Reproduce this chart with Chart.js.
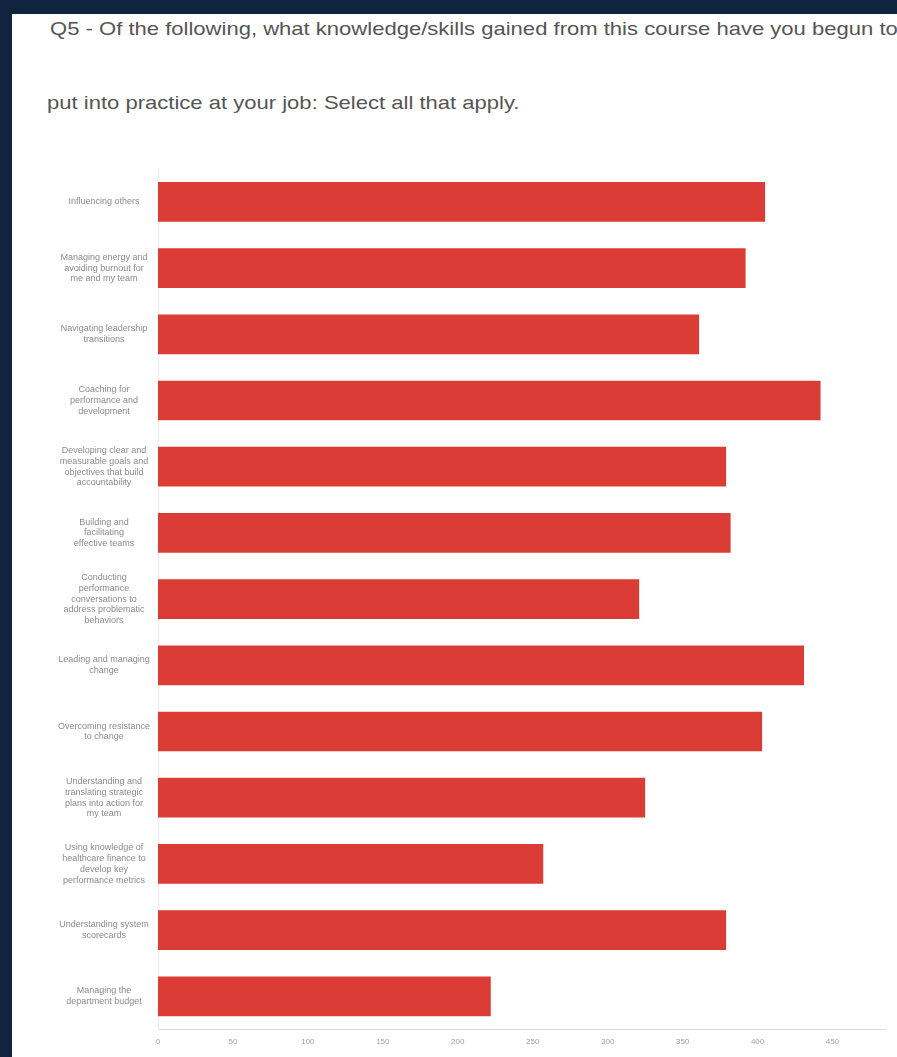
<!DOCTYPE html>
<html lang="en">
<head>
  <meta charset="UTF-8">
  <script src="https://cdn.jsdelivr.net/npm/chart.js"></script>
  <style>
    body {
      margin: 0;
      width: 897px;
      height: 1057px;
      background: #10233f;
      overflow: hidden;
      font-family: 'Liberation Sans', Arial, sans-serif;
    }

    .panel {
      position: absolute;
      left: 12px;
      top: 14px;
      width: 885px;
      height: 1043px;
      background: #ffffff;
      overflow: hidden;
    }

    .title {
      position: absolute;
      white-space: nowrap;
      color: #555;
      font-size: 19px;
      transform: scaleX(1.16);
      transform-origin: left center;
    }

    .chart-box {
      position: absolute;
      left: 0;
      top: 136px;
      width: 885px;
      height: 907px;
    }
  </style>
  <title>Q5 knowledge/skills</title>
</head>
<body>
  <div class="panel">
    <div class="title" style="left:38px; top:4px;">Q5 - Of the following, what knowledge/skills gained from this course have you begun to</div>
    <div class="title" style="left:35px; top:78px;">put into practice at your job: Select all that apply.</div>
    <div class="chart-box"><canvas id="chart"></canvas></div>
  </div>
  <script>
    const skills = [
      ['Influencing others'],
      ['Managing energy and', 'avoiding burnout for', 'me and my team'],
      ['Navigating leadership', 'transitions'],
      ['Coaching for', 'performance and', 'development'],
      ['Developing clear and', 'measurable goals and', 'objectives that build', 'accountability'],
      ['Building and', 'facilitating', 'effective teams'],
      ['Conducting', 'performance', 'conversations to', 'address problematic', 'behaviors'],
      ['Leading and managing', 'change'],
      ['Overcoming resistance', 'to change'],
      ['Understanding and', 'translating strategic', 'plans into action for', 'my team'],
      ['Using knowledge of', 'healthcare finance to', 'develop key', 'performance metrics'],
      ['Understanding system', 'scorecards'],
      ['Managing the', 'department budget']
    ];
    const responses = [405, 392, 361, 442, 379, 382, 321, 431, 403, 325, 257, 379, 222];
    const axisMax = 485;
    const tickStep = 50;

    const ctx = document.getElementById('chart').getContext('2d');
    new Chart(ctx, {
      type: 'bar',
      data: {
        labels: skills,
        datasets: [{
          data: responses,
          backgroundColor: '#dc3c36',
          borderWidth: 0,
          categoryPercentage: 1,
          barPercentage: 0.6
        }]
      },
      options: {
        indexAxis: 'y',
        responsive: true,
        maintainAspectRatio: false,
        animation: false,
        layout: { padding: { top: 7, right: 12, bottom: 2, left: 0 } },
        plugins: {
          legend: { display: false },
          tooltip: { enabled: false }
        },
        scales: {
          x: {
            min: 0,
            max: axisMax,
            grid: { display: false, drawTicks: false },
            border: { color: '#dcdcdc' },
            ticks: {
              stepSize: tickStep,
              padding: 8,
              color: '#a0a0a0',
              font: { family: 'Liberation Sans', size: 8 },
              callback: v => (v % tickStep === 0 ? v : '')
            }
          },
          y: {
            afterFit: scale => { scale.width = 146; },
            grid: { display: false, drawTicks: false },
            border: { color: '#ececec' },
            ticks: {
              crossAlign: 'center',
              padding: 8,
              color: '#8a8a8a',
              font: { family: 'Liberation Sans', size: 9, lineHeight: 1.2 }
            }
          }
        }
      }
    });
  </script>
</body>
</html>
